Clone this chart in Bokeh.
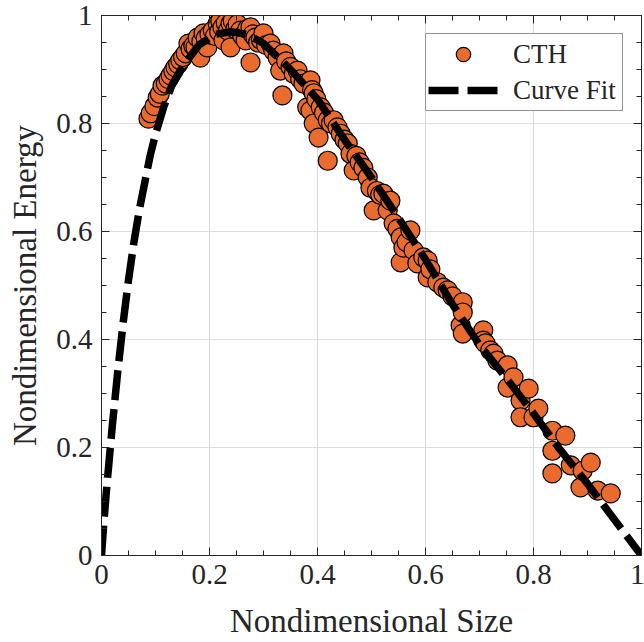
from bokeh.plotting import figure
from bokeh.models import (LinearAxis, FixedTicker, CustomJSTickFormatter, Legend,
                          LegendItem, Range1d, ColumnDataSource)
from bokeh.embed import file_html
from bokeh.resources import INLINE

# CTH simulation results (nondimensional size, nondimensional energy)
cth_x = [0.087, 0.091, 0.098, 0.104, 0.108, 0.113, 0.119, 0.124, 0.128, 0.133,
         0.137, 0.142, 0.146, 0.151, 0.156, 0.161, 0.165, 0.170, 0.174, 0.178,
         0.183, 0.185, 0.189, 0.193, 0.196, 0.200, 0.206, 0.210, 0.215, 0.218,
         0.220, 0.224, 0.226, 0.230, 0.234, 0.239, 0.239, 0.243, 0.248, 0.252,
         0.257, 0.261, 0.267, 0.270, 0.276, 0.276, 0.280, 0.285, 0.290, 0.295,
         0.300, 0.305, 0.313, 0.318, 0.326, 0.331, 0.335, 0.337, 0.342, 0.350,
         0.356, 0.363, 0.368, 0.374, 0.381, 0.387, 0.387, 0.390, 0.393, 0.393,
         0.398, 0.402, 0.406, 0.412, 0.419, 0.419, 0.425, 0.430, 0.437, 0.443,
         0.450, 0.456, 0.461, 0.467, 0.472, 0.478, 0.485, 0.493, 0.498, 0.504,
         0.510, 0.516, 0.522, 0.530, 0.535, 0.541, 0.548, 0.554, 0.554, 0.559,
         0.565, 0.572, 0.578, 0.585, 0.596, 0.604, 0.604, 0.609, 0.622, 0.633,
         0.641, 0.650, 0.665, 0.669, 0.669, 0.669, 0.707, 0.707, 0.711, 0.720,
         0.726, 0.733, 0.752, 0.752, 0.763, 0.776, 0.776, 0.791, 0.800, 0.809,
         0.835, 0.835, 0.835, 0.859, 0.869, 0.887, 0.891, 0.906, 0.919, 0.943]
cth_y = [0.809, 0.819, 0.832, 0.848, 0.855, 0.870, 0.874, 0.882, 0.889, 0.897,
         0.904, 0.910, 0.917, 0.923, 0.930, 0.948, 0.938, 0.944, 0.941, 0.959,
         0.922, 0.952, 0.967, 0.958, 0.941, 0.965, 0.972, 0.962, 0.985, 0.970,
         0.990, 0.978, 0.954, 0.986, 0.972, 0.941, 0.985, 0.990, 0.975, 0.984,
         0.972, 0.962, 0.954, 0.975, 0.913, 0.978, 0.965, 0.959, 0.950, 0.955,
         0.967, 0.945, 0.948, 0.935, 0.922, 0.898, 0.852, 0.930, 0.915, 0.905,
         0.892, 0.898, 0.882, 0.874, 0.830, 0.880, 0.824, 0.862, 0.856, 0.800,
         0.845, 0.774, 0.830, 0.820, 0.806, 0.731, 0.800, 0.806, 0.793, 0.781,
         0.770, 0.763, 0.744, 0.713, 0.740, 0.728, 0.718, 0.700, 0.681, 0.639,
         0.675, 0.668, 0.670, 0.639, 0.657, 0.615, 0.605, 0.589, 0.543, 0.570,
         0.580, 0.602, 0.565, 0.541, 0.552, 0.546, 0.515, 0.530, 0.506, 0.496,
         0.491, 0.480, 0.426, 0.469, 0.450, 0.411, 0.417, 0.398, 0.393, 0.380,
         0.374, 0.361, 0.352, 0.311, 0.330, 0.287, 0.256, 0.309, 0.256, 0.272,
         0.231, 0.194, 0.152, 0.222, 0.167, 0.126, 0.157, 0.172, 0.120, 0.115]

# Fitted energy curve
fit_x = [0.0, 0.005, 0.01, 0.02, 0.03, 0.04, 0.05, 0.06, 0.07, 0.08, 0.09,
         0.10, 0.115, 0.13, 0.15, 0.18, 0.21, 0.24, 0.27, 0.30, 0.35, 0.40,
         0.45, 0.50, 0.55, 0.60, 0.65, 0.70, 0.75, 0.80, 0.85, 0.90, 0.95, 1.0]
fit_y = [0.0, 0.07, 0.13, 0.24, 0.34, 0.43, 0.51, 0.58, 0.64, 0.69, 0.74,
         0.78, 0.83, 0.87, 0.905, 0.945, 0.965, 0.97, 0.965, 0.948, 0.90, 0.845,
         0.77, 0.70, 0.625, 0.548, 0.465, 0.39, 0.328, 0.263, 0.195, 0.133, 0.066, 0.0]

major_ticks = [0, 0.2, 0.4, 0.6, 0.8, 1.0]
minor_ticks = [0.0, 0.05, 0.1, 0.15, 0.2, 0.25, 0.3, 0.35, 0.4, 0.45, 0.5,
               0.55, 0.6, 0.65, 0.7, 0.75, 0.8, 0.85, 0.9, 0.95, 1.0]

FONT = "'Liberation Serif', 'Times New Roman', Times, serif"
INK = "#262626"

p = figure(width=644, height=642, x_range=Range1d(0, 1), y_range=Range1d(0, 1),
           output_backend="svg", toolbar_location=None,
           x_axis_label="Nondimensional Size", y_axis_label="Nondimensional Energy",
           min_border_left=101, min_border_right=3, min_border_top=15,
           min_border_bottom=87)
p.outline_line_color = None
p.background_fill_color = "white"

fmt = CustomJSTickFormatter(code="return Number(tick.toFixed(1)).toString();")
blank = CustomJSTickFormatter(code="return '';")


def style_axis(ax, show_labels=True):
    ax.ticker = FixedTicker(ticks=major_ticks, minor_ticks=minor_ticks)
    ax.axis_line_color = INK
    ax.axis_line_width = 1
    ax.major_tick_line_color = INK
    ax.minor_tick_line_color = INK
    ax.major_tick_in = 8
    ax.major_tick_out = 0
    ax.minor_tick_in = 5
    ax.minor_tick_out = 0
    if show_labels:
        ax.formatter = fmt
        ax.major_label_text_font = FONT
        ax.major_label_text_font_size = "29px"
        ax.major_label_text_color = INK
        ax.major_label_standoff = 9
        ax.axis_label_text_font = FONT
        ax.axis_label_text_font_size = "33px"
        ax.axis_label_text_font_style = "normal"
        ax.axis_label_text_color = INK
        ax.axis_label_standoff = 10
    else:
        ax.formatter = blank
        ax.major_label_standoff = 0


style_axis(p.xaxis[0])
style_axis(p.yaxis[0])
p.xaxis[0].axis_label_standoff = 16

top_axis = LinearAxis()
right_axis = LinearAxis()
style_axis(top_axis, show_labels=False)
style_axis(right_axis, show_labels=False)
p.add_layout(top_axis, "above")
p.add_layout(right_axis, "right")

for g in (p.xgrid[0], p.ygrid[0]):
    g.ticker = FixedTicker(ticks=major_ticks)
    g.grid_line_color = "#dddddd"
    g.grid_line_width = 1

src = ColumnDataSource(dict(x=cth_x, y=cth_y))
pts = p.scatter(x="x", y="y", source=src, marker="circle", size=19,
                fill_color="#EA6B2E", line_color="black", line_width=1.2)
fit = p.line(fit_x, fit_y, line_color="black", line_width=7.5, line_dash="30 9")

legend = Legend(items=[LegendItem(label="CTH", renderers=[pts]),
                       LegendItem(label="Curve Fit", renderers=[fit])],
                location=(324, 444), margin=0, padding=2, spacing=0,
                glyph_width=70, glyph_height=36, label_height=28,
                label_width=107, label_standoff=15,
                label_text_font=FONT, label_text_font_size="27px",
                label_text_color=INK,
                border_line_color=INK, border_line_width=1,
                background_fill_color="white", background_fill_alpha=1)
p.add_layout(legend)

open("out.html", "w").write(file_html(p, INLINE))
